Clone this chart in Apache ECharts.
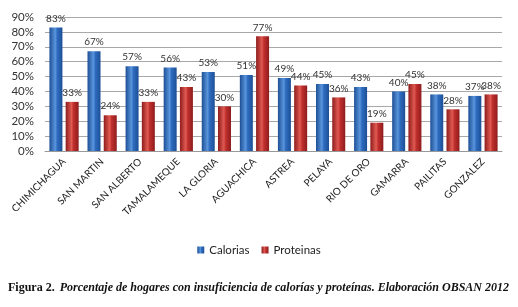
<!DOCTYPE html>
<html>
<head>
<meta charset="utf-8">
<script src="https://cdn.jsdelivr.net/npm/echarts@6/dist/echarts.min.js"></script>
<style>
  html, body { margin: 0; padding: 0; background: #fff; }
  #chart { width: 518px; height: 307px; }
</style>
</head>
<body>
<div id="chart"></div>
<script>
// municipios del Cesar
const categories = ['CHIMICHAGUA', 'SAN MARTIN', 'SAN ALBERTO', 'TAMALAMEQUE', 'LA GLORIA', 'AGUACHICA',
  'ASTREA', 'PELAYA', 'RIO DE ORO', 'GAMARRA', 'PAILITAS', 'GONZALEZ'];
const calorias = [83, 67, 57, 56, 53, 51, 49, 45, 43, 40, 38, 37];
const proteinas = [33, 24, 33, 43, 30, 77, 44, 36, 19, 45, 28, 38];
const yTicks = [0, 90, 10];

const chart = echarts.init(document.getElementById('chart'));

// efecto "cilindro" como en Excel
const cyl = (dark, mid, light) => new echarts.graphic.LinearGradient(0, 0, 1, 0, [
  { offset: 0, color: dark },
  { offset: 0.45, color: light },
  { offset: 0.6, color: mid },
  { offset: 1, color: dark },
]);

const labelStyle = {
  show: true,
  position: 'top',
  distance: 4,
  formatter: '{c}%',
  color: '#333',
  fontSize: 10,
  fontFamily: 'Lato',
};

const option = {
  backgroundColor: '#fff',
  animation: false,
  title: {
    left: 8,
    top: 279,
    padding: 0,
    text: '{b|Figura 2.} {i|Porcentaje de hogares con insuficiencia de calorías y proteínas. Elaboración OBSAN 2012}',
    textStyle: {
      rich: {
        b: { fontFamily: 'Liberation Serif', fontWeight: 'bold', fontSize: 12, color: '#111' },
        i: { fontFamily: 'Liberation Serif', fontStyle: 'italic', fontSize: 12, color: '#111' },
      },
    },
  },
  legend: {
    top: 239,
    left: 'center',
    itemWidth: 7,
    itemHeight: 7,
    itemGap: 12,
    icon: 'rect',
    textStyle: { fontFamily: 'Lato', fontSize: 11.5, color: '#222' },
    data: ['Calorias', 'Proteinas'],
  },
  grid: { left: 45, right: 16, top: 17, bottom: 156, containLabel: false },
  xAxis: {
    type: 'category',
    data: categories,
    axisLine: { lineStyle: { color: '#999' } },
    axisTick: { show: false },
    axisLabel: {
      rotate: 45,
      interval: 0,
      margin: 9,
      fontFamily: 'Lato',
      fontSize: 10,
      color: '#222',
    },
  },
  yAxis: {
    type: 'value',
    min: yTicks[0],
    max: yTicks[1],
    interval: yTicks[2],
    axisLine: { show: false },
    axisTick: { show: false },
    splitLine: { lineStyle: { color: '#a8a8a8' } },
    axisLabel: {
      formatter: '{value}%',
      fontFamily: 'Lato',
      fontSize: 11.5,
      color: '#333',
      margin: 11,
    },
  },
  series: [
    {
      name: 'Calorias',
      type: 'bar',
      data: calorias,
      barWidth: 13,
      barGap: '25%',
      itemStyle: { color: cyl('#1d4f95', '#2e6cc0', '#5a95dc') },
      label: labelStyle,
    },
    {
      name: 'Proteinas',
      type: 'bar',
      data: proteinas,
      barWidth: 13,
      itemStyle: { color: cyl('#8e1c1c', '#c0302e', '#e05a52') },
      label: labelStyle,
    },
  ],
};

chart.setOption(option);
</script>
</body>
</html>
